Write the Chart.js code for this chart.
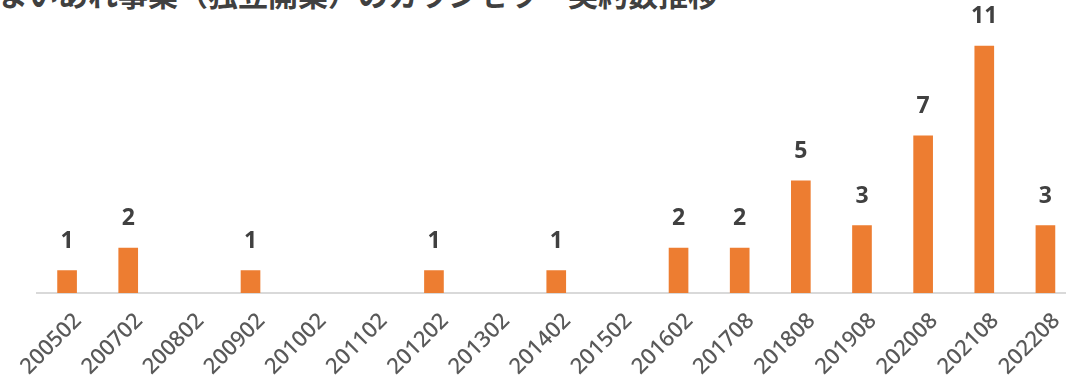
<!DOCTYPE html>
<html lang="ja">
<head>
<meta charset="utf-8">
<script src="https://cdn.jsdelivr.net/npm/chart.js@4/dist/chart.umd.min.js"></script>
<style>
  html, body { margin: 0; padding: 0; background: #ffffff; overflow: hidden; width: 1066px; height: 376px; }
  #title {
    position: absolute; left: -2px; top: -22px; white-space: nowrap;
    font-family: "Noto Sans CJK JP", sans-serif; font-weight: 700; font-size: 30px;
    line-height: 30px; color: #404040;
  }
  #wrap { position: absolute; left: 0; top: 0; width: 1076px; height: 376px; }
</style>
</head>
<body>
<div id="title">まいあれ事業（独立開業）のカウンセラー契約数推移</div>
<div id="wrap"><canvas id="chart"></canvas></div>
<script>
// 契約時期（年月）
const periods = ['200502', '200702', '200802', '200902', '201002', '201102', '201202', '201302',
  '201402', '201502', '201602', '201708', '201808', '201908', '202008', '202108', '202208'];
// 契約数
const contracts = [1, 2, null, 1, null, null, 1, null, 1, null, 2, 2, 5, 3, 7, 11, 3];

const BAR_COLOR = '#ED7D31';

// 棒の上に件数を表示
const valueLabels = {
  id: 'valueLabels',
  afterDatasetsDraw(chart) {
    const { ctx } = chart;
    const meta = chart.getDatasetMeta(0);
    ctx.save();
    ctx.font = 'bold 23px "Noto Sans", sans-serif';
    ctx.fillStyle = '#404040';
    ctx.textAlign = 'center';
    ctx.textBaseline = 'alphabetic';
    meta.data.forEach((bar, i) => {
      const v = contracts[i];
      if (v == null) return;
      ctx.fillText(String(v), bar.x, bar.y - 23);
    });
    ctx.restore();
  }
};

new Chart(document.getElementById('chart'), {
  type: 'bar',
  data: {
    labels: periods,
    datasets: [{
      data: contracts,
      backgroundColor: BAR_COLOR,
      borderWidth: 0,
      barThickness: 19
    }]
  },
  options: {
    responsive: true,
    maintainAspectRatio: false,
    animation: false,
    layout: { padding: { left: 36.5, right: 0, top: 23.6, bottom: 0 } },
    plugins: { legend: { display: false }, tooltip: { enabled: false } },
    scales: {
      x: {
        grid: { display: false, drawTicks: false },
        border: { display: true, color: '#d9d9d9', width: 2 },
        ticks: {
          color: '#595959',
          font: { family: '"Noto Sans", sans-serif', size: 22, weight: '500' },
          minRotation: 45, maxRotation: 45,
          padding: 15,
          labelOffset: 11,
          autoSkip: false
        },
        afterFit(scale) {
          scale.height = 83;
          scale.paddingLeft = 0;
          scale.paddingRight = 0;
        }
      },
      y: {
        display: false,
        min: 0, max: 12
      }
    }
  },
  plugins: [valueLabels]
});
</script>
</body>
</html>
